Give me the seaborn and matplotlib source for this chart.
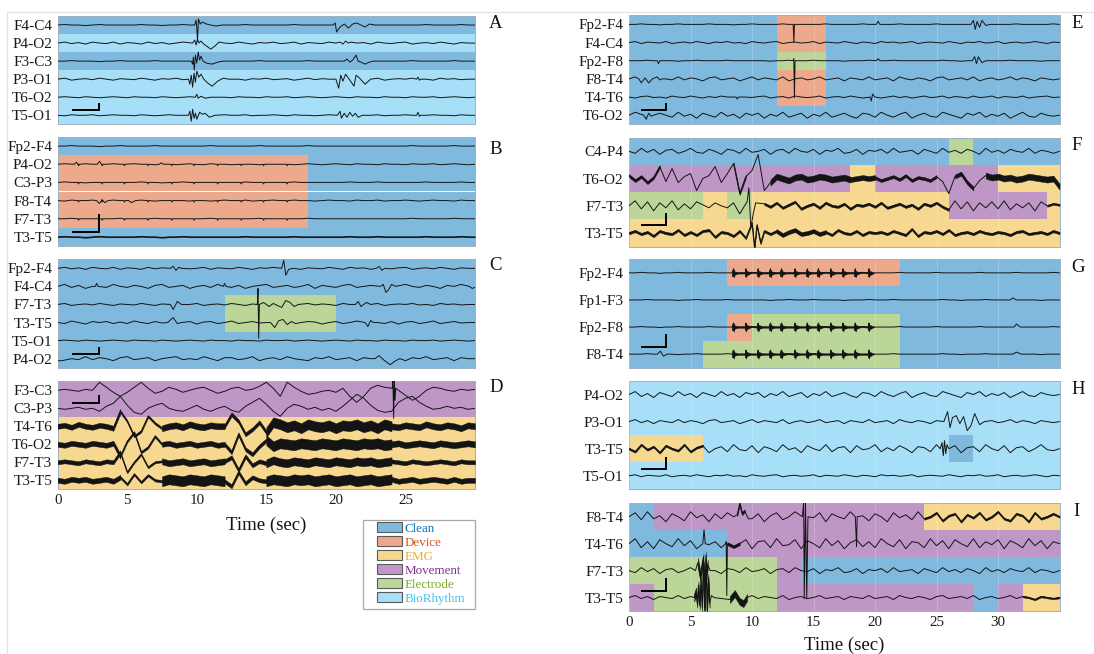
import numpy as np
import matplotlib
matplotlib.use("Agg")
import matplotlib.pyplot as plt
from matplotlib.patches import Patch, Rectangle
from matplotlib.lines import Line2D
import seaborn as sns

sns.set_theme(style="white")
plt.rcParams["font.family"] = ["Liberation Serif", "DejaVu Serif"]

# ---------------- classes / colours ----------------
CLASSES = ["Clean", "Device", "EMG", "Movement", "Electrode", "BioRhythm"]
CLASS_RGB = [(0, 114, 189), (217, 83, 25), (237, 177, 32),
             (126, 47, 142), (119, 172, 48), (77, 190, 238)]

# ---------------- background traces (px, 0.5 s step) ----------------
# left panels: 0..30 s (61 samples)
FLAT_L1 = [0,0.5,0,0,-0.5,0,0.5,0,0,0,
           0,0,0.5,0,0,-0.5,0,0,0.5,0,
           0,0,0,0,0,0,0,0.5,0,0,
           0,0,0,0,0.5,0,0,0,0,0,
           0,0,0.5,0,0,0,0.5,0,0,0,
           0,0,0,0.5,0,0,0,0,0.5,0,
           0]
FLAT_L2 = [0,0,0.5,0,0,0,-0.5,0,0,0.5,
           0,0,0,0,0.5,0,0,0,0,0,
           0,0,0.5,0,0,0,0,0,0,0.5,
           0,0,0,0,0,0,0.5,0,0,0,
           0,0,0,0,0,0,0,0,0,0,
           0,0.5,0,0,0,0,0,0.5,0,0,
           0]
WIG_L1 = [0,1,-0.5,0.5,-1,1,0,-0.5,1,-1,
          0.5,0,-1,1,-0.5,0.5,-1,0,1,-0.5,
          0,1,-1,0.5,0,-0.5,1,0,-1,0.5,
          0,1,-0.5,0,1,-1,0.5,0,-0.5,1,
          0,-1,1,0,0.5,-1,1,0,-0.5,0.5,
          1,-1,0,0.5,-0.5,1,0,-1,0.5,0,
          0]
WIG_L2 = [0,1,-1,0,0.5,-0.5,1,0,-1,0.5,
          0,-0.5,1,0,-1,0.5,0,1,-0.5,0,
          1,-1,0,0.5,-0.5,1,0,-1,0.5,0,
          1,-0.5,0,0.5,-1,0,1,-0.5,0.5,0,
          -1,1,0,-0.5,0.5,0,1,-1,0,0.5,
          0,1,-0.5,0,-1,1,0,0.5,-0.5,0,
          0]
WIG_L3 = [0,0.5,0,-0.5,0.5,0,-0.5,0,0.5,0,
          -0.5,0.5,0,0,-0.5,0.5,0,-0.5,0,0.5,
          0,-0.5,0.5,0,0,-0.5,0.5,0,0,-0.5,
          0.5,0,0,0.5,-0.5,0,0.5,0,-0.5,0,
          0.5,0,-0.5,0.5,0,0,-0.5,0.5,0,0,
          -0.5,0.5,0,0,0.5,-0.5,0,0.5,0,-0.5,
          0]
WIG_L4 = [0,-0.5,0.5,0,0,0.5,-0.5,0,0.5,0,
          0,-0.5,0.5,0,-0.5,0,0.5,0,0,-0.5,
          0.5,0,-0.5,0,0.5,0,0,0.5,-0.5,0,
          0,0.5,0,-0.5,0.5,0,0,-0.5,0,0.5,
          0,0,-0.5,0.5,0,0,0.5,-0.5,0,0,
          0.5,0,-0.5,0,0.5,0,0,-0.5,0.5,0,
          0]
WIG_L5 = [0,2,-1,1,-2,0,1,-1,2,0,
          -1,1,0,-2,1,2,-1,0,1,-2,
          0,1,-1,2,0,-1,1,-2,0,1,
          2,-1,0,1,-1,0,2,-2,1,0,
          -1,1,2,-1,0,1,-2,0,1,-1,
          2,0,-1,1,0,-2,1,0,2,-1,
          0]
WIG_L6 = [0,-1,1.5,0,-1.5,1,0,1,-1,0.5,
          -1,1.5,0,-1,1,-0.5,1.5,-1,0,1,
          -1.5,0.5,1,-1,0,1.5,-1,0,1,-0.5,
          0,1,-1.5,1,0,-1,1,0.5,-1.5,0,
          1,-1,0,1.5,-1,0.5,0,-1,1,-1.5,
          0.5,1,-1,0,1.5,-1,0,1,-0.5,0,
          0]
WIG_L7 = [-2,1,0,-1,2,-1,1,0,-2,1,
          2,-1,0,1,-2,0,1,2,-1,0,
          -1,2,0,-2,1,1,-1,0,2,-2,
          0,1,-1,2,0,-1,-2,1,0,2,
          -1,0,1,-2,1,0,2,-1,0,1,
          -2,1,0,2,-1,0,1,-2,1,0,
          0]
D_F3C3 = [0,1,0,-1,1,0,8,3,-2,-6,
          -2,3,8,2,-3,-1,3,1,-2,0,
          2,3,0,-3,-1,2,3,0,1,4,
          8,2,-6,8,3,-1,-4,-3,-1,0,
          -2,2,-6,-12,-6,2,5,3,8,0,
          -5,-10,-6,0,3,2,0,-1,1,0,
          1]
D_C3P3 = [0,-1,0,1,-1,0,-3,2,5,12,
          3,-4,-6,0,3,5,0,-2,-3,0,
          3,-1,-3,0,2,-2,-4,2,6,10,
          4,-3,-8,0,4,2,-1,1,-2,0,
          -3,2,8,14,10,3,-2,-4,-3,6,
          10,12,6,2,-1,0,2,0,1,-1,
          0]
D_T4T6 = [0,1,-1,2,0,-1,1,0,-2,15,
          5,-10,-5,10,3,-2,0,1,-1,2,
          0,-1,1,0,0,12,5,-8,-3,4,
          -6,4,2,-1,1,-2,2,0,-1,1,
          -2,1,0,2,-1,1,-2,2,0,-1,
          1,0,-1,2,0,-1,1,0,-2,1,
          0]
D_T6O2 = [0,-1,1,0,-1,1,0,-1,1,-12,
          3,12,-8,-3,8,0,1,-1,0,1,
          -1,0,1,-1,0,-8,10,-5,-10,-2,
          4,-2,1,0,-1,1,0,-1,1,0,
          -1,1,0,-1,1,0,1,-1,0,1,
          -1,0,1,0,-1,1,0,-1,0,1,
          0]
D_F7T3 = [0,1,0,-1,1,0,-1,1,0,10,
          -10,0,8,-5,0,1,-1,0,1,-1,
          0,1,-1,0,1,5,-8,6,-3,1,
          -1,2,0,-1,1,0,-1,1,0,-1,
          1,0,-1,1,0,1,-1,0,1,0,
          -1,1,0,-1,0,1,0,-1,1,0,
          0]
D_T3T5 = [0,-1,1,0,1,-1,0,1,-1,3,
          -4,6,-2,5,0,-1,1,0,-1,1,
          0,-1,1,0,-1,-6,8,-3,3,0,
          -1,1,0,-1,1,0,1,-1,0,1,
          -1,0,1,-1,0,1,-1,0,1,-1,
          0,1,-1,0,1,0,-1,1,-1,0,
          0]

# right panels: 0..35 s (71 samples)
FLAT_R1 = [0,0,0.5,0,0,-0.5,0,0,0.5,0,
           0,0,0,0.5,0,0,0,-0.5,0,0,
           0.5,0,0,0,0,0.5,0,0,0,0,
           0,0,0.5,0,0,0,0,0,0.5,0,
           0,0,0,0,0.5,0,0,0,0,0,
           0.5,0,0,0,0,0,0,0.5,0,0,
           0,0,0,0.5,0,0,0,0,0,0.5,
           0]
FLAT_R2 = [0,0,0,0.5,0,0,0,0,-0.5,0,
           0,0.5,0,0,0,0,0.5,0,0,0,
           0,0,0,-0.5,0,0,0.5,0,0,0,
           0.5,0,0,0,0,-0.5,0,0,0,0.5,
           0,0,0,0.5,0,0,0,0,0,0,
           0,0.5,0,0,-0.5,0,0,0,0.5,0,
           0,0,0.5,0,0,0,0,-0.5,0,0,
           0]
WIG_R1 = [0,1,-1,0.5,0,-0.5,1,-1,0,0.5,
          -0.5,1,0,-1,0.5,0,1,-0.5,0,-1,
          1,0,-0.5,0.5,1,-1,0,0.5,-0.5,0,
          1,-1,0.5,0,-0.5,1,0,-1,0.5,0,
          -1,1,0,0.5,-0.5,0,1,-1,0,0.5,
          0,-0.5,1,0,-1,0.5,0,1,-0.5,0,
          1,-1,0,0.5,-0.5,0,1,0,-1,0.5,
          0]
WIG_R1B = [0,-1,0.5,1,-0.5,0,-1,1,0,-0.5,
           1,0,-1,0.5,-0.5,1,0,-1,1,0,
           -0.5,0.5,1,-1,0,0.5,-1,1,0,-0.5,
           0,1,-1,0,0.5,-0.5,1,0,-1,1,
           0.5,-1,0,1,-0.5,0.5,-1,0,1,-0.5,
           0,1,-1,0.5,0,-1,1,-0.5,0,1,
           -1,0.5,0,-0.5,1,-1,0,0.5,1,-0.5,
           0]
WIG_R2 = [0,2,-1,1,-2,1,0,-1,2,-1,
          1,0,-2,1,2,-1,0,1,-2,0,
          2,-1,1,0,-1,2,-2,0,1,-1,
          0,2,-1,0,1,-2,1,0,-1,2,
          -1,0,1,-2,2,0,-1,1,0,-2,
          1,2,-1,0,1,-1,2,-2,0,1,
          -1,0,2,-1,1,0,-2,1,0,-1,
          0]
WIG_R3 = [0,3,-2,1,-3,2,0,-2,3,-1,
          1,-3,2,0,-2,3,-1,1,-3,2,
          0,2,-3,1,-1,3,-2,0,2,-3,
          1,-1,3,-2,0,2,-1,-3,2,1,
          -2,3,0,-2,1,3,-3,0,2,-1,
          -2,3,1,-1,-3,2,0,3,-2,1,
          -1,2,-3,0,3,-1,-2,2,0,-1,
          0]
WIG_R4 = [0,4,-3,5,-2,1,-5,3,0,-4,
          5,-1,2,-5,3,-2,4,0,-3,5,
          -2,3,-5,1,4,-3,0,5,-4,2,
          -1,4,-5,3,0,-2,5,-3,1,-4,
          3,0,-5,4,-1,2,-3,5,-2,0,
          4,-4,1,3,-5,2,-1,4,-3,0,
          5,-2,-4,3,1,-5,4,-2,0,3,
          0]
WIG_R5 = [0,-3,4,-1,2,-4,3,0,-2,4,
          -3,1,3,-4,0,2,-3,4,-1,-2,
          3,-4,2,0,-3,4,-1,1,-4,3,
          0,-2,4,-3,1,2,-4,3,-1,0,
          4,-3,1,-2,3,0,-4,2,1,-3,
          4,-1,-2,3,-4,1,2,-3,4,0,
          -2,3,-4,1,2,-3,0,4,-1,-2,
          0]
WIG_R6 = [0,-2,3,-1,2,-3,1,2,-2,0,
          3,-1,-2,2,0,-3,2,1,-2,3,
          -1,0,2,-3,1,2,-2,3,0,-1,
          2,-3,1,0,3,-2,-1,2,-3,1,
          0,2,-2,3,-1,0,1,-3,2,0,
          -2,3,-1,1,-2,2,0,-3,3,-1,
          1,-2,2,0,-1,3,-2,1,0,-2,
          0]
WIG_R7 = [0,5,-4,2,-5,4,0,-3,5,-2,
          3,-5,4,-1,2,-4,5,-3,0,4,
          -5,2,3,-4,5,-2,-1,4,-5,3,
          0,-4,5,-2,3,-5,1,4,-3,2,
          -4,5,0,-3,4,-5,2,1,-4,5,
          -2,3,-5,4,0,-3,5,-4,2,-1,
          4,-5,3,0,-4,5,-2,3,-5,2,
          0]
F_T6O2 = [3,-2,2,-4,1,12,-3,10,-4,2,
          5,-12,0,3,12,-4,5,15,-15,2,
          8,24,-12,-4,2,0,-2,1,2,-1,
          0,2,1,-1,0,1,-1,0,1,0,
          1,-2,0,2,-1,3,-2,1,0,-2,
          2,-3,-15,2,5,-4,-10,-2,3,1,
          2,0,1,-1,0,2,1,0,-1,0,
          -8]
F_F7T3 = [0,5,-3,4,-5,3,-2,5,-4,2,
          -3,4,1,-2,3,0,-2,3,-8,6,
          -20,4,2,-1,3,-2,1,4,-3,0,
          2,-2,3,0,-1,2,-3,1,0,2,
          -1,3,-2,0,2,-1,1,-3,2,0,
          3,-1,-4,5,-3,4,-5,3,-2,4,
          -3,5,-4,2,-2,3,-5,4,0,2,
          1]
F_T3T5 = [0,2,-1,1,-3,2,0,-1,3,-2,
          1,-2,2,3,-4,1,0,-3,2,-5,
          0,-6,3,-1,2,-2,1,3,-1,0,
          2,-1,1,-2,3,0,-1,2,-2,1,
          0,1,-1,2,0,-2,4,-3,1,0,
          2,-1,3,-2,0,1,-1,2,0,-1,
          1,0,-2,1,2,-1,0,1,-1,2,
          0]

# ---------------- panel A ----------------
A_CH = ["F4-C4", "P4-O2", "F3-C3", "P3-O1", "T6-O2", "T5-O1"]
A_BG = [FLAT_L1, WIG_L1, FLAT_L2, WIG_L2, WIG_L3, WIG_L4]
A_EV = [
    [(9.85,0),(9.95,5),(10.0,-3),(10.05,-16),(10.12,6),(10.25,1),(10.4,3),(10.7,1),(11.0,0),(11.4,-1),(11.8,0),
     (19.8,0),(19.95,2),(20.05,-7),(20.3,-2),(20.6,1),(20.9,-3),(21.2,1),(21.5,2),(21.8,0),(22.1,-2),(22.4,1),(22.8,0)],
    [(9.7,0),(9.85,3),(9.95,-2),(10.05,4),(10.15,0),(10.3,2),(10.5,-1),(10.8,-4),(11.0,-6),(11.3,-3),(11.6,1),(12.0,0),
     (20.3,1),(20.5,-1),(20.7,2),(20.9,0),(21.1,1)],
    [(9.6,0),(9.7,-3),(9.75,4),(9.82,-9),(9.9,6),(10.0,-2),(10.1,9),(10.2,1),(10.3,5),(10.45,0),(10.7,-2),(11.1,-3),(11.5,-1),(11.9,0),
     (20.6,0),(20.8,2),(21.0,-1),(21.2,1),(21.45,6),(21.6,0),(21.8,-1),(22.1,-3),(22.4,-1),(22.7,0)],
    [(9.4,0),(9.5,-5),(9.6,4),(9.7,-8),(9.8,6),(9.9,-3),(10.0,8),(10.15,2),(10.3,5),(10.5,0),(10.8,-4),(11.1,-7),(11.5,-2),(11.9,1),(12.3,0),
     (20.0,0),(20.2,-9),(20.35,4),(20.5,-2),(20.7,5),(20.9,1),(21.1,-3),(21.3,-7),(21.45,4),(21.7,1),(22.1,-5),(22.5,0),
     (25.8,0),(25.9,2),(26.0,-1),(26.1,0)],
    [(9.9,0),(10.0,3),(10.1,-1),(10.3,1),(10.6,-1),(11.0,0)],
    [(9.4,0),(9.5,4),(9.6,-6),(9.7,6),(9.8,-3),(9.9,2),(10.0,-4),(10.2,3),(10.4,1),(10.6,2),(10.9,-2),(11.3,0),
     (20.1,0),(20.3,4),(20.4,-3),(20.6,2),(20.8,-2),(21.0,3),(21.2,-1),(21.4,2),(21.6,-2),(21.9,0),
     (25.8,0),(25.9,3),(26.0,-1),(26.1,0)],
]
A_SEG = [(0,0,30,"Clean"),(1,0,30,"BioRhythm"),(2,0,30,"Clean"),
         (3,0,30,"BioRhythm"),(4,0,30,"BioRhythm"),(5,0,30,"BioRhythm")]
A_RIB = {}

# ---------------- panel B ----------------
B_CH = ["Fp2-F4", "P4-O2", "C3-P3", "F8-T4", "F7-T3", "T3-T5"]
B_BG = [FLAT_L2, WIG_L3, FLAT_L1, WIG_L4, FLAT_L2, FLAT_L1]
B_DOT_T = [1.5, 3.2, 4.8, 6.5, 8.2, 9.8, 11.5, 13.2, 14.8, 16.5]
B_DOT_AMP = 1.5
B_DOT_CH = [1, 2, 3, 4]
B_EV = [[],
        [(1.2,0),(1.35,2),(1.5,0),(2.85,0),(3.0,3),(3.15,0),(7.3,0),(7.45,1.5),(7.6,0)],
        [],
        [(2.8,0),(3.0,-3),(3.2,1),(3.4,-2),(3.6,0),(5.1,0),(5.3,-2),(5.6,0)],
        [], []]
B_SEG = [(0,0,30,"Clean"),
         (1,0,18,"Device"),(1,18,30,"Clean"),(2,0,18,"Device"),(2,18,30,"Clean"),
         (3,0,18,"Device"),(3,18,30,"Clean"),(4,0,18,"Device"),(4,18,30,"Clean"),
         (5,0,30,"Clean")]
B_RIB = {5: [(0, 30, 0.4)]}

# ---------------- panel C ----------------
C_CH = ["Fp2-F4", "F4-C4", "F7-T3", "T3-T5", "T5-O1", "P4-O2"]
C_BG = [WIG_L1, WIG_L5, WIG_L2, WIG_L6, WIG_L3, WIG_L7]
C_EV = [
    [(8.1,0),(8.3,2),(8.5,-2),(8.7,1),(8.9,0),(16.1,0),(16.25,8),(16.4,-7),(16.6,-1),(16.9,0),
     (22.9,0),(23.1,2),(23.3,-2),(23.5,0)],
    [(2.7,0),(2.8,3),(2.9,0),(11.9,0),(12.0,3),(12.1,0),(23.2,0),(23.4,2),(23.6,-6),(23.8,-3),(24.0,2),(24.3,0),
     (29.6,0),(29.8,-2),(30.0,-1)],
    [(8.1,0),(8.3,-5),(8.6,3),(8.9,0),(14.35,0),(14.4,16),(14.45,-34),(14.5,0),(14.8,2),(15.2,-2),(15.5,1),
     (16.1,-3),(16.4,4),(16.7,2),(17.0,-2),(17.3,0),(21.4,0),(21.6,3),(21.8,-2),(22.2,2),(22.5,0)],
    [(7.9,0),(8.3,5),(8.6,-1),(8.9,0),(15.3,0),(15.6,-5),(15.9,2),(16.2,3),(16.5,-2),(16.8,1),(17.1,-1),(17.5,0),
     (22.1,0),(22.3,-4),(22.5,2),(22.7,0)],
    [],
    [(0.3,-2),(22.8,0),(23.1,3),(23.5,-2),(23.9,-6),(24.3,-2),(24.6,0)],
]
C_SEG = [(0,0,30,"Clean"),(1,0,30,"Clean"),
         (2,0,12,"Clean"),(2,12,20,"Electrode"),(2,20,30,"Clean"),
         (3,0,12,"Clean"),(3,12,20,"Electrode"),(3,20,30,"Clean"),
         (4,0,30,"Clean"),(5,0,30,"Clean")]
C_RIB = {}

# ---------------- panel D ----------------
D_CH = ["F3-C3", "C3-P3", "T4-T6", "T6-O2", "F7-T3", "T3-T5"]
D_BG = [D_F3C3, D_C3P3, D_T4T6, D_T6O2, D_F7T3, D_T3T5]
D_EV = [[(24.05,2),(24.1,10),(24.15,-28),(24.2,10),(24.25,-10),(24.3,2)], [], [], [], [], []]
D_SEG = [(0,0,30,"Movement"),(1,0,30,"Movement"),(2,0,30,"EMG"),
         (3,0,30,"EMG"),(4,0,30,"EMG"),(5,0,30,"EMG")]
D_RIB = {2: [(0,4.5,2.5),(4.5,7.5,1.2),(7.5,12,3),(12,15,2),(15,24,5),(24,30,3)],
         3: [(0,4.5,2.5),(4.5,7.5,1.2),(7.5,12,2.5),(12,15,2),(15,24,5),(24,30,3)],
         4: [(0,4.5,2),(4.5,7.5,1),(7.5,12,3),(12,15,2),(15,24,4),(24,30,2)],
         5: [(0,4.5,2.5),(4.5,7.5,1.2),(7.5,12,5),(12,15,2),(15,24,5),(24,30,2.5)]}

# ---------------- panel E ----------------
E_CH = ["Fp2-F4", "F4-C4", "Fp2-F8", "F8-T4", "T4-T6", "T6-O2"]
E_BG = [FLAT_R1, WIG_R1, FLAT_R2, WIG_R2, WIG_R1B, WIG_R3]
E_EV = [
    [(13.35,0),(13.4,-18),(13.45,0),(20.1,0),(20.25,3),(20.4,0),(27.8,0),(28.0,4),(28.15,-5),(28.3,3),
     (28.5,-3),(28.7,4),(29.0,-1),(29.4,0)],
    [],
    [(2.3,0),(2.4,-3),(2.5,0),(13.35,0),(13.4,2),(13.45,-37),(13.5,0),(20.1,0),(20.25,2),(20.4,0),
     (27.9,0),(28.1,4),(28.25,-3),(28.4,4),(28.7,-2),(29.0,0)],
    [(0.8,0),(1.0,-4),(1.3,1),(1.6,-4),(1.9,0),(2.3,2),(2.5,-1),(2.7,0)],
    [(8.7,0),(8.8,-2),(8.9,0),(19.6,0),(19.7,-4),(19.8,3),(20.0,0)],
    [(1.2,0),(1.4,-4),(1.6,2),(1.8,-1),(2.0,0)],
]
E_SEG = [(0,0,35,"Clean"),(1,0,35,"Clean"),(2,0,35,"Clean"),(3,0,35,"Clean"),(4,0,35,"Clean"),(5,0,35,"Clean"),
         (0,12,16,"Device"),(1,12,16,"Device"),(2,12,16,"Electrode"),(3,12,16,"Device"),(4,12,16,"Device")]
E_RIB = {}

# ---------------- panel F ----------------
F_CH = ["C4-P4", "T6-O2", "F7-T3", "T3-T5"]
F_BG = [WIG_R6, F_T6O2, F_F7T3, F_T3T5]
F_EV = [[], [],
        [(9.6,4),(9.75,18),(9.9,-22),(10.1,-8),(10.3,3)],
        [(10.0,10),(10.2,-15),(10.4,8),(10.7,-10),(11.0,2)]]
F_SEG = [(0,0,26,"Clean"),(0,26,28,"Electrode"),(0,28,35,"Clean"),
         (1,0,18,"Movement"),(1,18,20,"EMG"),(1,20,30,"Movement"),(1,30,35,"EMG"),
         (2,0,6,"Electrode"),(2,6,8,"EMG"),(2,8,10,"Electrode"),(2,10,26,"EMG"),(2,26,34,"Movement"),(2,34,35,"EMG"),
         (3,0,35,"EMG")]
F_RIB = {1: [(0,2.5,1.5),(8.5,9.5,1.5),(11.5,18,3),(18,20,2.5),(20,25,1.5),(26.5,28,2),(29,35,3)],
         2: [(10.5,26,1.2),(34,35,1)],
         3: [(0,35,1.2),(12,16,2)]}

# ---------------- panel G ----------------
G_CH = ["Fp2-F4", "Fp1-F3", "Fp2-F8", "F8-T4"]
G_BG = [FLAT_R1, FLAT_R2, FLAT_R1, FLAT_R2]
G_SPIKE_T = [8.5, 9.5, 10.5, 11.5, 12.4, 13.5, 14.5, 15.4, 16.4, 17.4, 18.4, 19.5]
G_SPIKE_AMP = 4
G_SPIKE_CH = [0, 2, 3]
G_EV = [[], [(31.0,0),(31.2,2),(31.5,0)], [(31.3,0),(31.5,3),(31.8,0)],
        [(2.3,0),(2.55,3),(2.8,-2),(3.1,0),(31.2,0),(31.5,2),(31.9,0)]]
G_SEG = [(0,0,8,"Clean"),(0,8,22,"Device"),(0,22,35,"Clean"),
         (1,0,35,"Clean"),
         (2,0,8,"Clean"),(2,8,10,"Device"),(2,10,22,"Electrode"),(2,22,35,"Clean"),
         (3,0,6,"Clean"),(3,6,22,"Electrode"),(3,22,35,"Clean")]
G_RIB = {0: [(8.4,19.8,0.7)], 2: [(8.4,19.8,0.7)], 3: [(8.4,19.8,0.7)]}

# ---------------- panel H ----------------
H_CH = ["P4-O2", "P3-O1", "T3-T5", "T5-O1"]
H_BG = [WIG_R3, WIG_R2, WIG_R5, WIG_R1]
H_EV = [[],
        [(25.6,0),(25.9,10),(26.1,-6),(26.3,4),(26.6,6),(26.9,-2),(27.2,5),(27.5,-9),(27.8,-4),(28.1,8),(28.5,-3),(28.9,0)],
        [(25.3,0),(25.45,6),(25.55,-7),(25.65,8),(25.75,-5),(25.85,4),(26.0,0)],
        []]
H_SEG = [(0,0,35,"BioRhythm"),(1,0,35,"BioRhythm"),
         (2,0,6,"EMG"),(2,6,26,"BioRhythm"),(2,26,28,"Clean"),(2,28,35,"BioRhythm"),
         (3,0,35,"BioRhythm")]
H_RIB = {2: [(0,6,1.0)]}

# ---------------- panel I ----------------
I_CH = ["F8-T4", "T4-T6", "F7-T3", "T3-T5"]
I_BG = [WIG_R4, WIG_R7, WIG_R6, WIG_R2]
I_EV = [
    [(8.8,2),(9.0,13),(9.2,3),(9.4,6),(9.7,-2),(14.1,0),(14.2,15),(14.25,-82),(14.35,15),(14.45,-82),(14.55,0),
     (18.4,0),(18.5,-30),(18.55,0)],
    [(6.0,0),(6.1,14),(6.2,0),(7.85,0),(7.9,2),(7.95,-52),(8.0,0)],
    [(5.4,0),(5.6,8),(5.8,-6),(6.0,10),(6.2,-12),(6.4,6),(6.6,0)],
    [(5.3,0),(5.45,6),(5.55,-6),(5.65,12),(5.75,-8),(5.85,16),(5.95,-10),(6.05,40),(6.15,-14),(6.25,42),
     (6.35,-14),(6.45,20),(6.55,-6),(6.7,2),(6.9,0),(8.2,-2),(8.6,4),(9.0,-4),(9.3,-6),(9.6,0)],
]
I_SEG = [(0,0,2,"Clean"),(0,2,24,"Movement"),(0,24,35,"EMG"),
         (1,0,8,"Clean"),(1,8,35,"Movement"),
         (2,0,12,"Electrode"),(2,12,14,"Movement"),(2,14,35,"Clean"),
         (3,0,2,"Movement"),(3,2,12,"Electrode"),(3,12,28,"Movement"),(3,28,30,"Clean"),(3,30,32,"Movement"),(3,32,35,"EMG")]
I_RIB = {0: [(8.6,9.6,1.5),(24,35,1.0)], 1: [(8.0,9.0,1.5)], 2: [(5.5,6.5,5)],
         3: [(5.3,6.6,4),(7.9,9.7,3.5),(32,35,0.8)]}

# scale bar: time extent (s) and per-panel (baseline, top) in channel units
SCALE_T = [1, 3]
SCALE_Y = {"A": (5.22, 4.82), "B": (5.22, 4.23), "C": (5.24, 4.84), "D": (1.22, 0.76),
           "E": (5.21, 4.81), "F": (3.2, 2.76), "G": (3.25, 2.76), "H": (3.25, 2.81), "I": (3.26, 2.77)}

# ---------------- helpers ----------------
def spike_events(times, amp):
    ev = []
    for s in times:
        ev += [(s - 0.04, 0.0), (s, amp), (s + 0.03, -amp), (s + 0.07, 0.0)]
    return ev

def dot_events(times, amp):
    ev = []
    for s in times:
        ev += [(s - 0.05, 0.0), (s, -amp), (s + 0.05, 0.0)]
    return ev

def build(bg, events, dt=0.5):
    t = np.arange(len(bg)) * dt
    v = np.asarray(bg, dtype=float)
    if events:
        et = np.array([e[0] for e in events], float)
        ev = np.array([e[1] for e in events], float)
        keep = np.abs(t[:, None] - et[None, :]).min(axis=1) > 0.2
        t = np.concatenate([t[keep], et])
        v = np.concatenate([v[keep], ev])
        o = np.argsort(t, kind="stable")
        t, v = t[o], v[o]
    return t, v

FILL = {c: tuple(0.5 * np.array(rgb) / 255 + 0.5) for c, rgb in zip(CLASSES, CLASS_RGB)}
FULL = {c: tuple(np.array(rgb) / 255) for c, rgb in zip(CLASSES, CLASS_RGB)}

# add generated device artefact events
for ci in B_DOT_CH:
    B_EV[ci] = B_EV[ci] + dot_events(B_DOT_T, B_DOT_AMP)
for ci in G_SPIKE_CH:
    G_EV[ci] = G_EV[ci] + spike_events(G_SPIKE_T, G_SPIKE_AMP)

W, H = 1094, 654
fig = plt.figure(figsize=(W / 100, H / 100), dpi=100)

LX = (57.7, 475.0)
RX = (629.0, 1059.5)
PANELS = [
    ("A", A_CH, A_BG, A_EV, A_SEG, A_RIB, 30, LX, (16.0, 124.3), (489, 24), False),
    ("B", B_CH, B_BG, B_EV, B_SEG, B_RIB, 30, LX, (137.0, 246.0), (489, 149), False),
    ("C", C_CH, C_BG, C_EV, C_SEG, C_RIB, 30, LX, (259.3, 367.7), (489, 266), False),
    ("D", D_CH, D_BG, D_EV, D_SEG, D_RIB, 30, LX, (381.3, 489.3), (489, 388), True),
    ("E", E_CH, E_BG, E_EV, E_SEG, E_RIB, 35, RX, (15.3, 124.3), (1071, 23), False),
    ("F", F_CH, F_BG, F_EV, F_SEG, F_RIB, 35, RX, (137.7, 246.7), (1071, 146), False),
    ("G", G_CH, G_BG, G_EV, G_SEG, G_RIB, 35, RX, (259.3, 367.7), (1071, 267), False),
    ("H", H_CH, H_BG, H_EV, H_SEG, H_RIB, 35, RX, (381.0, 489.3), (1071, 390), False),
    ("I", I_CH, I_BG, I_EV, I_SEG, I_RIB, 35, RX, (503.3, 611.0), (1073, 511), True),
]

TRACE_C = "#141414"
for (name, ch, bgs, evs, segs, ribs, xmax, xs, ys, lpos, show_x) in PANELS:
    l, r = xs
    t_, b_ = ys
    ax = fig.add_axes([l / W, 1 - b_ / H, (r - l) / W, (b_ - t_) / H])
    n = len(ch)
    band_px = (b_ - t_) / n
    for (ci, t0, t1, cls) in segs:
        ax.barh(ci + 0.5, t1 - t0, left=t0, height=1.0, color=FILL[cls], linewidth=0, zorder=1)
    for i, (bg, ev) in enumerate(zip(bgs, evs)):
        tt, vv = build(bg, ev)
        yy = i + 0.5 - vv / band_px
        sns.lineplot(x=tt, y=yy, ax=ax, color=TRACE_C, linewidth=0.7, sort=False,
                     estimator=None, zorder=3, legend=False)
        for (a, bb, w) in ribs.get(i, []):
            m = (tt >= a) & (tt <= bb)
            ax.fill_between(tt[m], yy[m] - w / band_px, yy[m] + w / band_px,
                            color=TRACE_C, linewidth=0.3, zorder=3)
    if name == "G":
        for ci in G_SPIKE_CH:
            sns.scatterplot(x=[s + 0.15 for s in G_SPIKE_T], y=[ci + 0.5] * len(G_SPIKE_T), ax=ax,
                            marker=">", s=22, color=TRACE_C, edgecolor=TRACE_C, linewidth=0.3,
                            zorder=4, legend=False)
    yh, ytop = SCALE_Y[name]
    ax.plot([SCALE_T[0], SCALE_T[1], SCALE_T[1]], [yh, yh, ytop], color="black",
            linewidth=1.4, solid_joinstyle="miter", solid_capstyle="butt", zorder=5)
    ax.set_xlim(0, xmax)
    ax.set_ylim(n, 0)
    ax.set_yticks([i + 0.5 for i in range(n)])
    ax.set_yticklabels(ch)
    ax.set_xticks(list(range(0, xmax, 5)))
    ax.set_xlabel("")
    ax.set_ylabel("")
    ax.tick_params(axis="y", length=0, pad=4, labelsize=11, colors="#1a1a1a")
    ax.tick_params(axis="x", direction="in", length=3, width=0.6, color="#8a98a8",
                   labelsize=10.8, pad=3.5, labelcolor="#1a1a1a", labelbottom=show_x)
    if xs == RX:
        ax.set_axisbelow(False)
        ax.grid(axis="x", color="white", alpha=0.2, linewidth=0.8, zorder=2)
    else:
        ax.grid(False)
    for sp in ax.spines.values():
        sp.set_color("#9fb0c2")
        sp.set_linewidth(0.7)
    fig.text(lpos[0] / W, 1 - lpos[1] / H, name, fontsize=13.5, ha="left", va="center", color="#111")

fig.text(266.4 / W, 1 - 525 / H, "Time (sec)", fontsize=13.5, ha="center", va="center", color="#111")
fig.text(844 / W, 1 - 645 / H, "Time (sec)", fontsize=13.5, ha="center", va="center", color="#111")

# legend
handles = [Patch(facecolor=FILL[c], edgecolor="#5a5a5a", linewidth=0.8) for c in CLASSES]
leg = fig.legend(handles, CLASSES, loc="upper left", bbox_to_anchor=(377 / W, 1 - 522 / H),
                 frameon=False, fontsize=9.4, handlelength=1.9, handleheight=0.8,
                 handletextpad=0.2, labelspacing=0.12, borderpad=0, borderaxespad=0)
for txt, c in zip(leg.get_texts(), CLASSES):
    txt.set_color(FULL[c])
fig.add_artist(Rectangle((362.7 / W, 1 - 609 / H), 112.3 / W, 89 / H, transform=fig.transFigure,
                         fill=False, edgecolor="#a8a8a8", linewidth=0.9))

# thin frame of the original screenshot
fig.add_artist(Line2D([7.3 / W, 1], [1 - 11.7 / H, 1 - 11.7 / H], transform=fig.transFigure,
                      color="#e2e2e2", linewidth=0.9))
fig.add_artist(Line2D([7.3 / W, 7.3 / W], [0, 1 - 11.7 / H], transform=fig.transFigure,
                      color="#e2e2e2", linewidth=0.9))

fig.savefig("out.png", dpi=100, facecolor="white")
